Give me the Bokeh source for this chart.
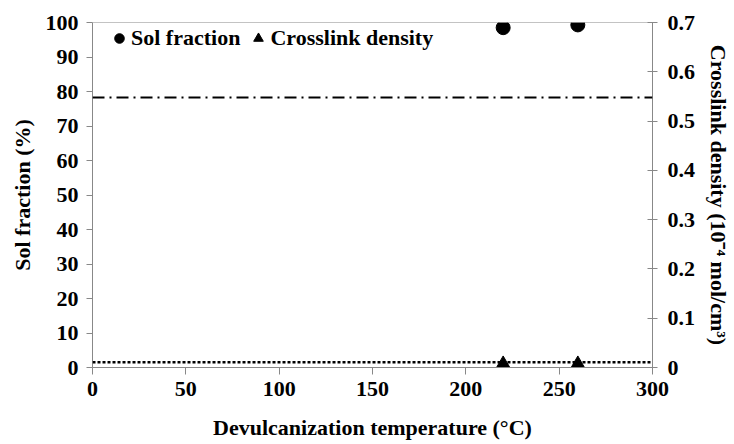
from bokeh.plotting import figure
from bokeh.models import Range1d, LinearAxis, Legend, LegendItem, Span, FixedTicker
from bokeh.embed import file_html
from bokeh.resources import INLINE

# Data
temperature = [220, 260]
sol_fraction = [98.5, 99.3]
crosslink_density = [0.0, 0.0]
ref_crosslink_density = 0.548   # dash-dot reference line (right axis)
ref_sol_fraction = 1.5          # dotted reference line (left axis)

x_ticks = [0, 50, 100, 150, 200, 250, 300]
y_ticks = [0, 10, 20, 30, 40, 50, 60, 70, 80, 90, 100]
y2_ticks = [0, 0.1, 0.2, 0.3, 0.4, 0.5, 0.6, 0.7]

FONT = "Liberation Serif"
FS = "22px"

p = figure(width=734, height=444, output_backend="svg", toolbar_location=None,
           x_range=Range1d(0, 300), y_range=Range1d(0, 100))
p.extra_y_ranges = {"cd": Range1d(0, 0.7)}
p.min_border_left = 92
p.min_border_right = 82
p.min_border_top = 22
p.min_border_bottom = 77
p.xgrid.visible = False
p.ygrid.visible = False
p.outline_line_color = None
p.background_fill_color = "white"

# top frame line
p.add_layout(Span(location=100, dimension="width", line_color="#888888", line_width=1))

# reference lines
p.add_layout(Span(location=ref_crosslink_density, dimension="width", y_range_name="cd",
                  line_color="black", line_width=2, line_dash="12 5 2 5"))
p.add_layout(Span(location=ref_sol_fraction, dimension="width",
                  line_color="black", line_width=2.5, line_dash="3 2"))

c = p.scatter(temperature, sol_fraction, marker="circle", size=14, color="black")
t = p.scatter(temperature, crosslink_density, marker="triangle", size=20, color="black",
              y_range_name="cd")

def style(ax):
    ax.axis_line_color = "#888888"
    ax.major_tick_line_color = "#888888"
    ax.minor_tick_line_color = None
    ax.major_label_text_font = FONT
    ax.major_label_text_font_style = "bold"
    ax.major_label_text_font_size = FS
    ax.major_label_text_color = "black"
    ax.axis_label_text_font = FONT
    ax.axis_label_text_font_style = "bold"
    ax.axis_label_text_font_size = FS
    ax.axis_label_text_color = "black"

xa = p.xaxis[0]
style(xa)
xa.ticker = FixedTicker(ticks=x_ticks)
xa.major_tick_out = 7
xa.major_tick_in = 0
xa.major_label_standoff = 7
xa.axis_label = "Devulcanization temperature (°C)"
xa.axis_label_standoff = 16

ya = p.yaxis[0]
style(ya)
ya.ticker = FixedTicker(ticks=y_ticks)
ya.major_tick_out = 6
ya.major_tick_in = 0
ya.major_label_standoff = 8
ya.axis_label = "Sol fraction (%)"
ya.axis_label_standoff = 8

y2 = LinearAxis(y_range_name="cd", ticker=FixedTicker(ticks=y2_ticks))
style(y2)
y2.major_tick_out = 5
y2.major_tick_in = 5
y2.major_label_standoff = 10
y2.major_label_overrides = {0: "0"}
y2.axis_label = "Crosslink density (10⁻⁴ mol/cm³)"
y2.axis_label_standoff = 8
p.add_layout(y2, "right")

legend = Legend(items=[LegendItem(label="Sol fraction", renderers=[c]),
                       LegendItem(label="Crosslink density", renderers=[t])],
                orientation="horizontal", location=(15, 316),
                border_line_color=None, background_fill_alpha=0,
                label_text_font=FONT, label_text_font_style="bold",
                label_text_font_size=FS, label_text_color="black",
                glyph_width=24, glyph_height=24,
                label_standoff=0, spacing=6, padding=2, margin=0)
p.add_layout(legend)

open("out.html", "w").write(file_html(p, INLINE))
